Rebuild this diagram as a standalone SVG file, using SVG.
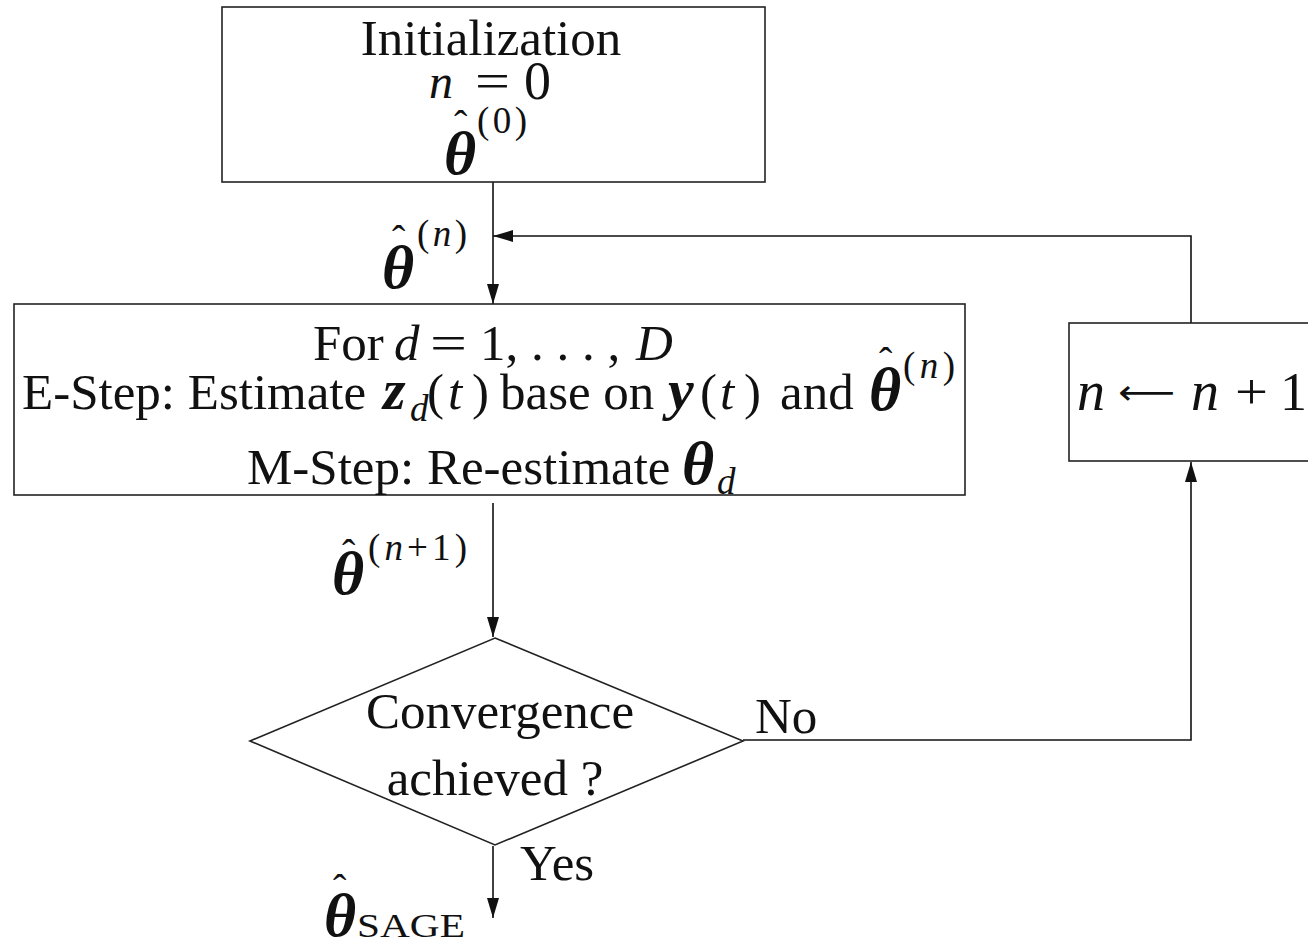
<svg xmlns="http://www.w3.org/2000/svg" width="1308" height="943" viewBox="0 0 1308 943">
<style>
text{font-family:"Liberation Serif","Times New Roman",serif;font-size:51px;fill:#111}
.i{font-style:italic}
.b{font-style:italic;font-weight:bold;font-size:62px}
.bz{font-style:italic;font-weight:bold;font-size:58px}
.s{font-size:37px}
.h{font-size:40px}
.box{fill:#fff;stroke:#222;stroke-width:1.6}
.ln{fill:none;stroke:#111;stroke-width:1.6}
</style>
<defs>
<marker id="ah" viewBox="0 0 20 12" refX="20" refY="6" markerWidth="20" markerHeight="12" markerUnits="userSpaceOnUse" orient="auto">
<path d="M0,0 L20,6 L0,12 Z" fill="#111"/>
</marker>
</defs>
<rect width="1308" height="943" fill="#fff"/>
<g id="connectors">
<line class="ln" x1="493" y1="182" x2="493" y2="304" marker-end="url(#ah)"/>
<polyline class="ln" points="1191,323 1191,236 493,236" marker-end="url(#ah)"/>
<line class="ln" x1="493" y1="503" x2="493" y2="637" marker-end="url(#ah)"/>
<polyline class="ln" points="743,740 1191,740 1191,462" marker-end="url(#ah)"/>
<line class="ln" x1="493" y1="846" x2="493" y2="918" marker-end="url(#ah)"/>
</g>
<g id="labels">
<text class="b" x="382" y="288">θ</text><text class="h" x="392" y="253">ˆ</text><text class="s" x="417" y="246" textLength="50">(<tspan class="i">n</tspan>)</text>
<text class="b" x="332" y="594">θ</text><text class="h" x="342" y="567">ˆ</text><text class="s" x="368" y="560" textLength="99">(<tspan class="i">n</tspan>+1)</text>
<text x="755" y="733">No</text>
<text x="520" y="880">Yes</text>
<text class="b" x="324" y="936">θ</text><text class="h" x="333" y="902">ˆ</text><text x="357" y="937" style="font-size:34px" textLength="108" lengthAdjust="spacingAndGlyphs">SAGE</text>
</g>
<g id="init">
<rect class="box" x="222" y="7" width="543" height="175"/>
<text x="491" y="55" text-anchor="middle">Initialization</text>
<text class="i" x="429" y="98" style="font-size:48px">n</text>
<text x="475" y="98" textLength="35" lengthAdjust="spacingAndGlyphs">=</text>
<text x="524" y="99" style="font-size:54px">0</text>
<text class="b" x="444" y="174">θ</text><text class="h" x="454" y="138">ˆ</text><text class="s" x="477" y="133" textLength="50">(0)</text>
</g>
<g id="sage">
<rect class="box" x="14" y="304" width="951" height="191"/>
<text x="313" y="360">For</text>
<text class="i" x="394" y="360">d</text>
<text x="430" y="360" textLength="37" lengthAdjust="spacingAndGlyphs">=</text>
<text x="480" y="360">1, . . . ,</text>
<text class="i" x="636" y="360">D</text>
<text x="22" y="409">E-Step: Estimate</text>
<text class="bz" x="383" y="409">z</text><text class="s i" x="410" y="421">d</text>
<text x="427" y="409">(</text><text class="i" x="448" y="409">t</text><text x="472" y="409">)</text>
<text x="500" y="409">base on</text>
<text class="bz" x="668" y="409">y</text>
<text x="700" y="409">(</text><text class="i" x="720" y="409">t</text><text x="744" y="409">)</text>
<text x="780" y="409">and</text>
<text class="b" x="869" y="410">θ</text><text class="h" x="879" y="375">ˆ</text>
<text class="s" x="903" y="378" textLength="52">(<tspan class="i">n</tspan>)</text>
<text x="247" y="484">M-Step: Re-estimate</text>
<text class="b" x="682" y="484">θ</text><text class="s i" x="717" y="494">d</text>
</g>
<g id="update">
<rect class="box" x="1069" y="323" width="260" height="138"/>
<text class="i" x="1077" y="410" style="font-size:56px">n</text>
<text x="1118" y="404" style="font-family:'DejaVu Sans',sans-serif;font-size:34px" textLength="57" lengthAdjust="spacingAndGlyphs">⟵</text>
<text class="i" x="1191" y="410" style="font-size:56px">n</text>
<text x="1235" y="409" textLength="33" lengthAdjust="spacingAndGlyphs">+</text>
<text x="1280" y="410" style="font-size:54px">1</text>
</g>
<g id="converge">
<polygon class="box" points="495,638 743,741 495,845 250,741"/>
<text x="500" y="728" text-anchor="middle">Convergence</text>
<text x="495" y="795" text-anchor="middle">achieved ?</text>
</g>
</svg>
